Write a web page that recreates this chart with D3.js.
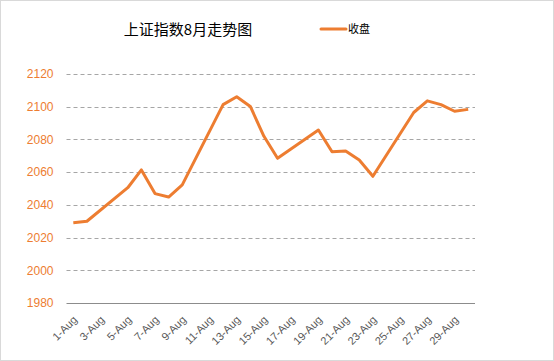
<!DOCTYPE html>
<html><head><meta charset="utf-8">
<script src="https://cdn.jsdelivr.net/npm/d3@7"></script>
<style>body{margin:0;background:#fff}svg{display:block}</style>
</head><body>
<svg id="c" width="554" height="361"></svg>
<script>
const days = [1,2,5,6,7,8,9,12,13,14,15,16,19,20,21,22,23,26,27,28,29,30];
const closes = [2029.07,2029.98,2050.48,2061.35,2046.87,2044.80,2052.23,2101.28,2106.14,2100.14,2081.93,2068.45,2085.76,2072.45,2072.96,2067.39,2057.46,2096.47,2103.57,2101.29,2097.23,2098.38];
const tickDays = [1,3,5,7,9,11,13,15,17,19,21,23,25,27,29];
const yTicks = [1980,2000,2020,2040,2060,2080,2100,2120];
const title = "上证指数8月走势图";
const seriesName = "收盘";

const svg = d3.select("#c");
const color = "#ED7D31";
svg.append("rect").attr("x",0.5).attr("y",0.5).attr("width",553).attr("height",360)
  .attr("fill","#fff").attr("stroke","#d9d9d9");

const x = d3.scaleLinear().domain([0.5,30.5]).range([66.5,475]);
const y = d3.scaleLinear().domain([1980,2120]).range([303,74]);

const yAxis = d3.axisLeft(y).tickValues(yTicks).tickSize(0).tickPadding(13).tickFormat(d3.format("d"));
const gy = svg.append("g").attr("transform","translate(66.5,0)").call(yAxis);
gy.select(".domain").remove();
gy.selectAll("text").attr("fill",color).style("font-family","'Liberation Sans',Arial,sans-serif").style("font-size","12px");
svg.append("g").selectAll("line").data(yTicks.filter(d=>d>1980)).join("line")
  .attr("x1",x(0.5)).attr("x2",x(30.5)).attr("y1",d=>Math.round(y(d))+0.5).attr("y2",d=>Math.round(y(d))+0.5)
  .attr("stroke","#a6a6a6").attr("stroke-dasharray","4,3");

const xAxis = d3.axisBottom(x).tickValues(tickDays).tickSize(0).tickFormat(d=>d+"-Aug");
const gx = svg.append("g").attr("transform",`translate(0,${Math.round(y(1980))+0.5})`).call(xAxis);
gx.select(".domain").attr("stroke","#8c8c8c").attr("d",`M${x(0.5)},0H${x(30.5)}`);
gx.selectAll("text").attr("fill","#595959").style("font-family","'Liberation Sans',Arial,sans-serif").style("font-size","11px")
  .attr("text-anchor","end").attr("dy","0").attr("y",0)
  .attr("transform","translate(4,17) rotate(-45)");

const data = days.map((d,i)=>({d, v:closes[i]}));
svg.append("path").datum(data).attr("fill","none").attr("stroke",color).attr("stroke-width",3)
  .attr("stroke-linejoin","round")
  .attr("d", d3.line().x(p=>x(p.d)).y(p=>y(p.v)));

svg.append("text").attr("x",188).attr("y",35).attr("text-anchor","middle")
  .style("font-family","'Noto Sans CJK SC',sans-serif").style("font-size","15px").attr("fill","#000").text(title);
svg.append("line").attr("x1",321).attr("x2",346).attr("y1",29).attr("y2",29).attr("stroke",color).attr("stroke-width",3).attr("stroke-linecap","round");
svg.append("text").attr("x",348).attr("y",33).style("font-family","'Noto Sans CJK SC',sans-serif").style("font-size","11px").attr("fill","#000").text(seriesName);
</script>
</body></html>
